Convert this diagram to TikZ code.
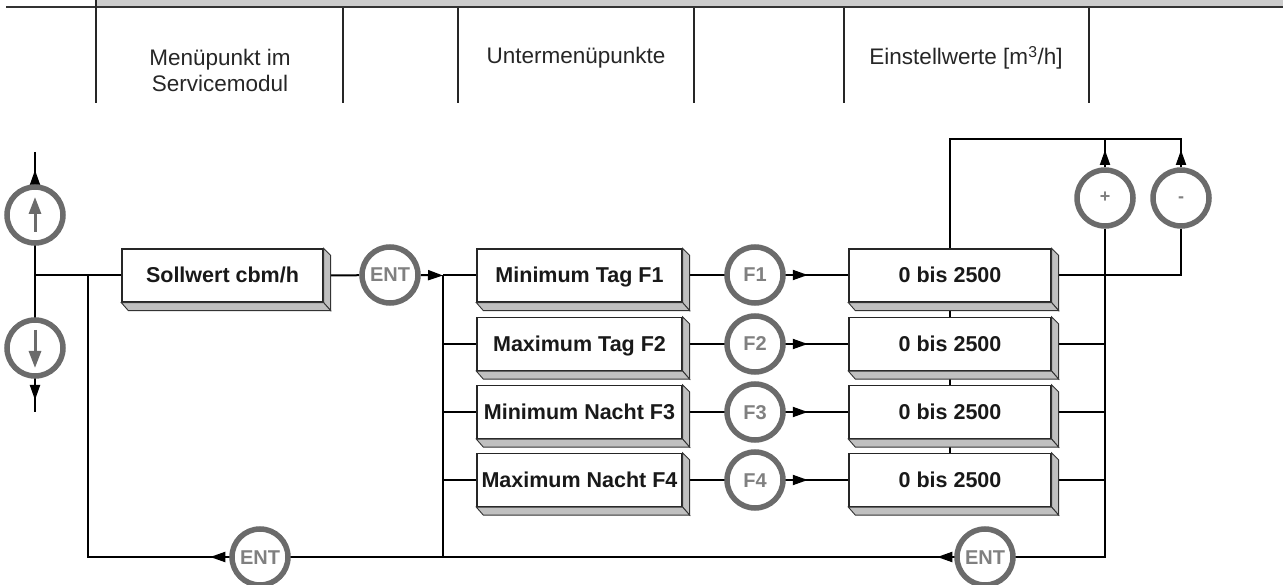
\documentclass[tikz,border=0pt]{standalone}
\usepackage{fontspec}
\setmainfont{Liberation Sans}
\usetikzlibrary{arrows.meta,calc}
\definecolor{ring}{HTML}{6B6B6B}
\definecolor{ctext}{HTML}{808080}
\definecolor{shade}{HTML}{C0C0C0}
\definecolor{band}{HTML}{CCCCCC}
\pgfdeclarelayer{bg}
\pgfsetlayers{bg,main}
\newcommand\extrude[1]{%
  \path[fill=shade,draw=black!80,line width=0.9pt] (#1.north east) -- ([shift={(7,7)}]#1.north east) -- ([shift={(7,8)}]#1.south east) -- (#1.south east) -- cycle;
  \path[fill=shade,draw=black!80,line width=0.9pt] (#1.south west) -- ([shift={(7,8)}]#1.south west) -- ([shift={(7,8)}]#1.south east) -- (#1.south east) -- cycle;}
\begin{document}
\begin{tikzpicture}[x=1pt,y=-1pt,
  line/.style={line width=2pt,black},
  tipline/.style={line width=2pt,black,-{Triangle[length=15pt,width=10pt]}},
  key/.style={circle,draw=ring,line width=5.5pt,fill=white,minimum size=56pt,inner sep=0pt,text=ctext,text height=14pt,text depth=0pt,font=\bfseries\fontsize{20}{22}\selectfont},
  smallkey/.style={key,text height=10pt,font=\bfseries\fontsize{18}{18}\selectfont},
  menubox/.style={rectangle,draw=black!85,line width=1.3pt,fill=white,minimum height=53pt,inner sep=0pt,text height=15pt,text depth=0pt,font=\bfseries\fontsize{21.5}{24}\selectfont,text=black!90},
  head/.style={font=\fontsize{22.5}{26}\selectfont,text=black!85,align=center},
  col/.style={line width=1.8pt,black!85},
  inarrow/.style={line width=3pt,ring,-{Triangle[length=17pt,width=12pt]}}
]
\useasboundingbox (0,0) rectangle (1283,585);
% header band
\fill[band] (96,0) rectangle (1283,6.5);
\draw[line width=2pt,black!80] (6,7.5) -- (1283,7.5);
\draw[col] (96,0) -- (96,103);
\foreach \x in {343,458,694,844,1089} \draw[col] (\x,8.5) -- (\x,103);
\node[head] (h1) at (220,70) {Menüpunkt im\\Servicemodul};
\node[head] (h2) at (576,58) {Untermenüpunkte};
\node[head] (h3) at (966,58) {Einstellwerte [m\textsuperscript{3}/h]};

% boxes
\node[menubox,minimum width=201pt] (soll) at (222.5,275.5) {Sollwert cbm/h};
\node[menubox,minimum width=205pt] (m1) at (579.5,275.5) {Minimum Tag F1};
\node[menubox,minimum width=205pt] (m2) at (579.5,344) {Maximum Tag F2};
\node[menubox,minimum width=205pt] (m3) at (579.5,412) {Minimum Nacht F3};
\node[menubox,minimum width=205pt] (m4) at (579.5,480) {Maximum Nacht F4};
\node[menubox,minimum width=202pt] (v1) at (950,275.5) {0 bis 2500};
\node[menubox,minimum width=202pt] (v2) at (950,344) {0 bis 2500};
\node[menubox,minimum width=202pt] (v3) at (950,412) {0 bis 2500};
\node[menubox,minimum width=202pt] (v4) at (950,480) {0 bis 2500};
\foreach \n in {soll,m1,m2,m3,m4,v1,v2,v3,v4} {\extrude{\n}}

% keys
\node[key] (up) at (35,215) {};
\node[key] (down) at (35,348) {};
\node[key] (ent) at (390,275) {ENT};
\node[key] (f1) at (755,275) {F1};
\node[key] (f2) at (755,344) {F2};
\node[key] (f3) at (755,412) {F3};
\node[key] (f4) at (755,480) {F4};
\node[smallkey] (plus) at (1105,198) {+};
\node[smallkey] (minus) at (1181,198) {-};
\node[key] (entL) at (260,557) {ENT};
\node[key] (entR) at (985,557) {ENT};
\draw[inarrow] ([yshift=-17pt]up.center) -- ([yshift=18pt]up.center);
\draw[inarrow] ([yshift=18pt]down.center) -- ([yshift=-20pt]down.center);

% junction coordinates
\coordinate (topU) at (35,152);
\coordinate (botD) at (35,412);
\coordinate (jL) at (35,275.5);
\coordinate (jS) at (88,275.5);
\coordinate (bL) at (88,557);
\coordinate (bus) at (443,275.5);
\coordinate (busB) at (443,557);
\coordinate (vt) at (950,139);
\coordinate (pm) at (1105,139);
\coordinate (mm) at (1181,139);
\coordinate (rr) at (1105,557);
\coordinate (mr) at (1181,275.5);

\begin{pgfonlayer}{bg}
\draw[line] (topU) -- (botD);
\draw[tipline] (up.north) -- (35,170);
\draw[tipline] (down.south) -- (35,400);
\draw[line] (jL) -- (soll.west);
\draw[line] (soll.east) -- (ent);
\draw[tipline] (ent.east) -- (bus);
\draw[line] (bus) -- (busB);
\draw[line] (bus) -- (m1.west);
\draw[line] (m2.west -| bus) -- (m2.west);
\draw[line] (m3.west -| bus) -- (m3.west);
\draw[line] (m4.west -| bus) -- (m4.west);
\foreach \i in {1,2,3,4} {
  \draw[line] (m\i.east) -- (v\i.west);
  \draw[tipline] (f\i.east) -- ++(22,0);
}
\draw[line] (v1.north) -- (vt) -- (mm) -- (minus);
\draw[line] (pm) -- (plus);
\draw[tipline] (plus.north) -- (1105,150);
\draw[tipline] (minus.north) -- (1181,150);
\draw[line] (minus) -- (mr) -- (v1.east);
\draw[line] (v1.south) -- (v2.north);
\draw[line] (v2.south) -- (v3.north);
\draw[line] (v3.south) -- (v4.north);
\draw[line] (v2.east) -- (v2.east -| rr);
\draw[line] (v3.east) -- (v3.east -| rr);
\draw[line] (v4.east) -- (v4.east -| rr);
\draw[line] (plus) -- (rr) -- (bL) -- (jS);
\draw[tipline] (entL.west) -- ++(-19,0);
\draw[tipline] (entR.west) -- ++(-17,0);
\end{pgfonlayer}
\end{tikzpicture}
\end{document}
